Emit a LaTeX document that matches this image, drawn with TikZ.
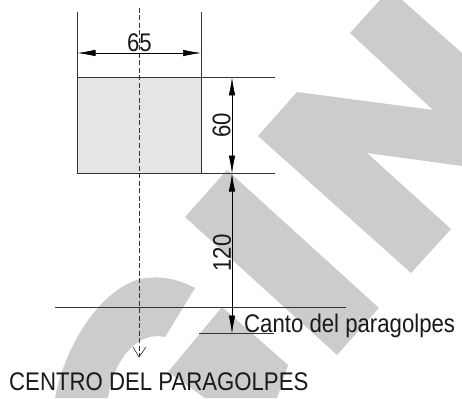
\documentclass[tikz,border=0pt]{standalone}
\usepackage{fontspec}
\setmainfont[FakeStretch=0.87]{Liberation Sans}
\usepackage{xcolor}
\usepackage{tikz}
\usetikzlibrary{arrows.meta}
\definecolor{markgray}{RGB}{204,204,204}
\definecolor{boxgray}{RGB}{228,229,231}
\tikzset{
  dimline/.style={black,line width=0.55pt,{Latex[length=18pt,width=6.5pt]}-{Latex[length=18pt,width=6.5pt]}},
  refline/.style={black!80,line width=0.6pt},
  lbl/.style={inner sep=0pt,font=\fontsize{25.5}{26}\selectfont,text=black!90}
}
\begin{document}
\begin{tikzpicture}[x=1pt,y=-1pt]
\useasboundingbox (0,0) rectangle (462,398);
% watermark
\fill[markgray] (350,33)--(380,0)--(402,0)--(462,53)--(462,166)--(367,153)--(451,229)--(411,273)--(258,136)--(297,92)--(433,110)--cycle;
\fill[markgray] (227,170)--(379,308)--(337,355)--(185,217)--cycle;
\fill[markgray] (195,288) .. controls (178,279) and (160,275) .. (140,279) .. controls (100,290) and (65,345) .. (55,398) -- (108,398) .. controls (112,365) and (135,330) .. (165,337) -- cycle;
\fill[markgray] (222,307)--(288,365)--(277,398)--(205,398)--(168,372)--cycle;
% box
\fill[boxgray] (77,77) rectangle (201,173);
\coordinate (tl) at (77,12);
\coordinate (tr) at (201,12);
\coordinate (bl) at (77,173.5);
\coordinate (br) at (201,173.5);
\draw[refline] (tl)--(bl)--(br)--(tr);
\draw[refline] (77,77)--(275,77);
\draw[refline] (201,173.5)--(275,173.5);
\draw[refline] (55,307)--(346,307);
\draw[refline] (199,333.5)--(274,333.5);
% centre line
\coordinate (ctop) at (139,8);
\coordinate (cbot) at (139,356);
\draw[black!80,line width=0.6pt,dash pattern=on 5pt off 2.5pt] (ctop)--(cbot);
\draw[black,line width=0.5pt] (133,347)--(139,357)--(146,347);
% dimensions
\coordinate (w1) at (77.5,53);
\coordinate (w2) at (201,53);
\coordinate (h1) at (232,77.5);
\coordinate (h2) at (232,173.5);
\coordinate (h3) at (232,333.5);
\draw[dimline] (w1)--(w2);
\draw[dimline] (h1)--(h2);
\draw[dimline] (h2)--(h3);
\node[lbl] (wlabel) at (139.5,42.5) {65};
\node[lbl,rotate=90] (hlabel) at (221.5,125) {60};
\node[lbl,rotate=90] (dlabel) at (222,253) {120};
\node[lbl,anchor=base west] (canto) at (244,332) {Canto del paragolpes};
\node[lbl,anchor=base west] (centro) at (9,390) {CENTRO DEL PARAGOLPES};
\end{tikzpicture}
\end{document}
